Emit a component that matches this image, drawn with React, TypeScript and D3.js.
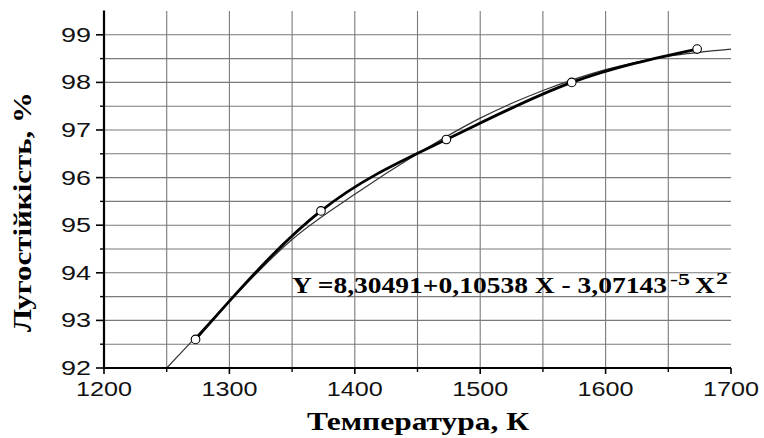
import React from "react";
import * as d3 from "d3";

// Measured points (temperature K, arc resistance %)
const pointTemps = [1273, 1373, 1473, 1573, 1673];
const pointValues = [92.6, 95.3, 96.8, 98.0, 98.7];

// Regression curve
const fitTemps = [1250, 1275, 1300, 1350, 1400, 1450, 1500, 1550, 1600, 1650, 1700];
const fitValues = [92.0, 92.7, 93.4, 94.7, 95.65, 96.5, 97.25, 97.83, 98.27, 98.55, 98.7];

const xTickValues = [1200, 1300, 1400, 1500, 1600, 1700];
const xMinorTicks = [1250, 1350, 1450, 1550, 1650];
const yTickValues = [92, 93, 94, 95, 96, 97, 98, 99];
const yMinorTicks = [92.5, 93.5, 94.5, 95.5, 96.5, 97.5, 98.5];

const xTitle = "Температура, К";
const yTitle = "Лугостійкість, %";
const formulaMain = "Y =8,30491+0,10538 X - 3,07143";
const formulaExp1 = "-5";
const formulaX = "X";
const formulaExp2 = "2";

const W = 764;
const H = 438;
const sans = "'Liberation Sans', Arial, sans-serif";
const serif = "'Liberation Serif', 'Times New Roman', serif";

export default function App() {
  const x = d3.scaleLinear().domain([1200, 1700]).range([104, 731]);
  const y = d3.scaleLinear().domain([92, 99.5]).range([368, 11]);

  const vGrid = [...xMinorTicks, 1300, 1400, 1500, 1600].sort((a, b) => a - b);
  const hGrid = [...yMinorTicks, 93, 94, 95, 96, 97, 98, 99];

  const fitLine = d3
    .line<number>()
    .x((_, i) => x(fitTemps[i]))
    .y((d) => y(d))
    .curve(d3.curveMonotoneX)(fitValues);

  const dataLine = d3
    .line<number>()
    .x((_, i) => x(pointTemps[i]))
    .y((d) => y(d))
    .curve(d3.curveNatural)(pointValues);

  const x0 = x(1200);
  const x1 = x(1700);
  const yb = y(92);
  const yt = y(99.5);

  return (
    <svg
      width={W}
      height={H}
      style={{ position: "absolute", left: 0, top: 0, background: "#fff" }}
    >
      <rect x={0} y={0} width={W} height={H} fill="#fff" />
      {/* grid */}
      {vGrid.map((v) => (
        <line key={"vg" + v} x1={x(v)} x2={x(v)} y1={yt} y2={yb} stroke="#7a7a7a" strokeWidth={1.1} />
      ))}
      {hGrid.map((v) => (
        <line key={"hg" + v} x1={x0} x2={x1} y1={y(v)} y2={y(v)} stroke="#7a7a7a" strokeWidth={1.1} />
      ))}

      {/* curves */}
      <path d={fitLine || ""} fill="none" stroke="#333" strokeWidth={1.2} />
      <path d={dataLine || ""} fill="none" stroke="#000" strokeWidth={2.8} />
      {pointTemps.map((t, i) => (
        <circle key={"p" + t} cx={x(t)} cy={y(pointValues[i])} r={4.3} fill="#fff" stroke="#000" strokeWidth={1.1} />
      ))}

      {/* axes */}
      <line x1={x0} x2={x0} y1={yt - 0.5} y2={yb + 1} stroke="#000" strokeWidth={2.2} />
      <line x1={x0 - 1} x2={x1} y1={yb} y2={yb} stroke="#000" strokeWidth={2.2} />
      {xTickValues.map((v) => (
        <line key={"xt" + v} x1={x(v)} x2={x(v)} y1={yb} y2={yb + 6} stroke="#000" strokeWidth={1.6} />
      ))}
      {xMinorTicks.map((v) => (
        <line key={"xm" + v} x1={x(v)} x2={x(v)} y1={yb} y2={yb + 4} stroke="#000" strokeWidth={1.4} />
      ))}
      {yTickValues.map((v) => (
        <line key={"yt" + v} x1={x0 - 8} x2={x0} y1={y(v)} y2={y(v)} stroke="#000" strokeWidth={1.6} />
      ))}
      {yMinorTicks.map((v) => (
        <line key={"ym" + v} x1={x0 - 4} x2={x0} y1={y(v)} y2={y(v)} stroke="#000" strokeWidth={1.4} />
      ))}

      {/* tick labels */}
      {xTickValues.map((v) => (
        <text
          key={"xl" + v}
          x={x(v) - 28}
          y={396}
          fontFamily={sans}
          fontSize={19.5}
          textLength={56}
          lengthAdjust="spacingAndGlyphs"
          fill="#111"
        >
          {String(v)}
        </text>
      ))}
      {yTickValues.map((v) => (
        <text
          key={"yl" + v}
          x={61}
          y={y(v) + 7}
          fontFamily={sans}
          fontSize={19.5}
          textLength={30}
          lengthAdjust="spacingAndGlyphs"
          fill="#111"
        >
          {String(v)}
        </text>
      ))}

      {/* titles */}
      <text
        x={307}
        y={430}
        fontFamily={serif}
        fontWeight="bold"
        fontSize={25}
        textLength={222}
        lengthAdjust="spacingAndGlyphs"
        fill="#000"
      >
        {xTitle}
      </text>
      <text
        transform="translate(31,332) rotate(-90)"
        x={0}
        y={0}
        fontFamily={serif}
        fontWeight="bold"
        fontSize={25}
        textLength={240}
        lengthAdjust="spacingAndGlyphs"
        fill="#000"
      >
        {yTitle}
      </text>

      {/* formula */}
      <text x={292} y={293} fontFamily={serif} fontWeight="bold" fontSize={22.5} textLength={375} lengthAdjust="spacingAndGlyphs" fill="#000">
        {formulaMain}
      </text>
      <text x={670} y={285} fontFamily={serif} fontWeight="bold" fontSize={17} textLength={20} lengthAdjust="spacingAndGlyphs" fill="#000">
        {formulaExp1}
      </text>
      <text x={695} y={293} fontFamily={serif} fontWeight="bold" fontSize={22.5} textLength={20} lengthAdjust="spacingAndGlyphs" fill="#000">
        {formulaX}
      </text>
      <text x={716} y={284} fontFamily={serif} fontWeight="bold" fontSize={17} textLength={12} lengthAdjust="spacingAndGlyphs" fill="#000">
        {formulaExp2}
      </text>
    </svg>
  );
}
